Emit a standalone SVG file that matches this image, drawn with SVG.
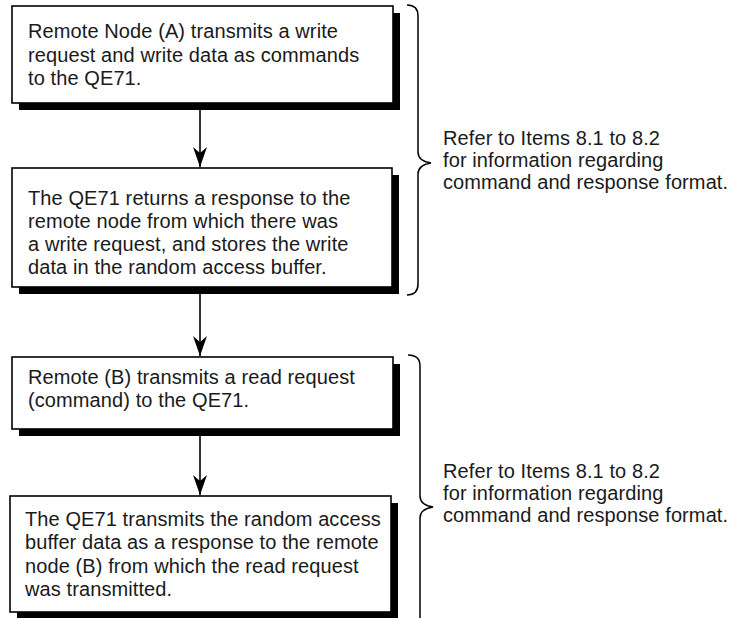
<svg xmlns="http://www.w3.org/2000/svg" width="742" height="618" viewBox="0 0 742 618">
<defs>
<style>
.box{fill:#fff;stroke:#000;stroke-width:1.6}
.shadow{fill:#000}
.t{font-family:"Liberation Sans",Arial,sans-serif;font-size:20px;letter-spacing:0.1px;fill:#1a1a1a}
.conn{stroke:#000;stroke-width:1.6;fill:none}
.brace{stroke:#000;stroke-width:1.5;fill:none}
</style>
<marker id="ah" viewBox="0 0 20 14" refX="20" refY="7" markerWidth="20" markerHeight="14" markerUnits="userSpaceOnUse" orient="auto">
<path d="M0,0 L20,7 L0,14 L6,7 Z" fill="#000"/>
</marker>
</defs>
<rect width="742" height="618" fill="#fff"/>
<g id="connectors">
<line class="conn" x1="200" y1="110" x2="200" y2="167" marker-end="url(#ah)"/>
<line class="conn" x1="200" y1="294" x2="200" y2="356" marker-end="url(#ah)"/>
<line class="conn" x1="200" y1="436" x2="200" y2="495" marker-end="url(#ah)"/>
</g>
<g id="box1">
<rect class="shadow" x="19" y="13" width="381" height="97"/>
<rect class="box" x="12" y="6" width="381" height="97"/>
<text class="t" x="28" y="38">Remote Node (A) transmits a write</text>
<text class="t" x="28" y="61.5">request and write data as commands</text>
<text class="t" x="28" y="85">to the QE71.</text>
</g>
<g id="box2">
<rect class="shadow" x="19" y="175" width="380" height="119"/>
<rect class="box" x="12" y="168" width="380" height="119"/>
<text class="t" x="28" y="205">The QE71 returns a response to the</text>
<text class="t" x="28" y="228">remote node from which there was</text>
<text class="t" x="28" y="251">a write request, and stores the write</text>
<text class="t" x="28" y="274">data in the random access buffer.</text>
</g>
<g id="box3">
<rect class="shadow" x="19" y="364" width="381" height="72"/>
<rect class="box" x="12" y="357" width="381" height="72"/>
<text class="t" x="28" y="384">Remote (B) transmits a read request</text>
<text class="t" x="28" y="407">(command) to the QE71.</text>
</g>
<g id="box4">
<rect class="shadow" x="17" y="503" width="381" height="116"/>
<rect class="box" x="10" y="496" width="381" height="116"/>
<text class="t" x="25" y="526">The QE71 transmits the random access</text>
<text class="t" x="25" y="549">buffer data as a response to the remote</text>
<text class="t" x="25" y="573">node (B) from which the read request</text>
<text class="t" x="25" y="596">was transmitted.</text>
</g>
<g id="note1">
<path class="brace" d="M407,5 Q418,5 418,16 L418,152 Q418,161 431,163 Q418,165 418,174 L418,284 Q418,295 407,295"/>
<text class="t" x="443" y="145">Refer to Items 8.1 to 8.2</text>
<text class="t" x="443" y="167">for information regarding</text>
<text class="t" x="443" y="189">command and response format.</text>
</g>
<g id="note2">
<path class="brace" d="M408,355 Q420,355 420,366 L420,496 Q420,505 433,507 Q420,509 420,518 L420,618"/>
<text class="t" x="443" y="478">Refer to Items 8.1 to 8.2</text>
<text class="t" x="443" y="500">for information regarding</text>
<text class="t" x="443" y="522">command and response format.</text>
</g>
</svg>
